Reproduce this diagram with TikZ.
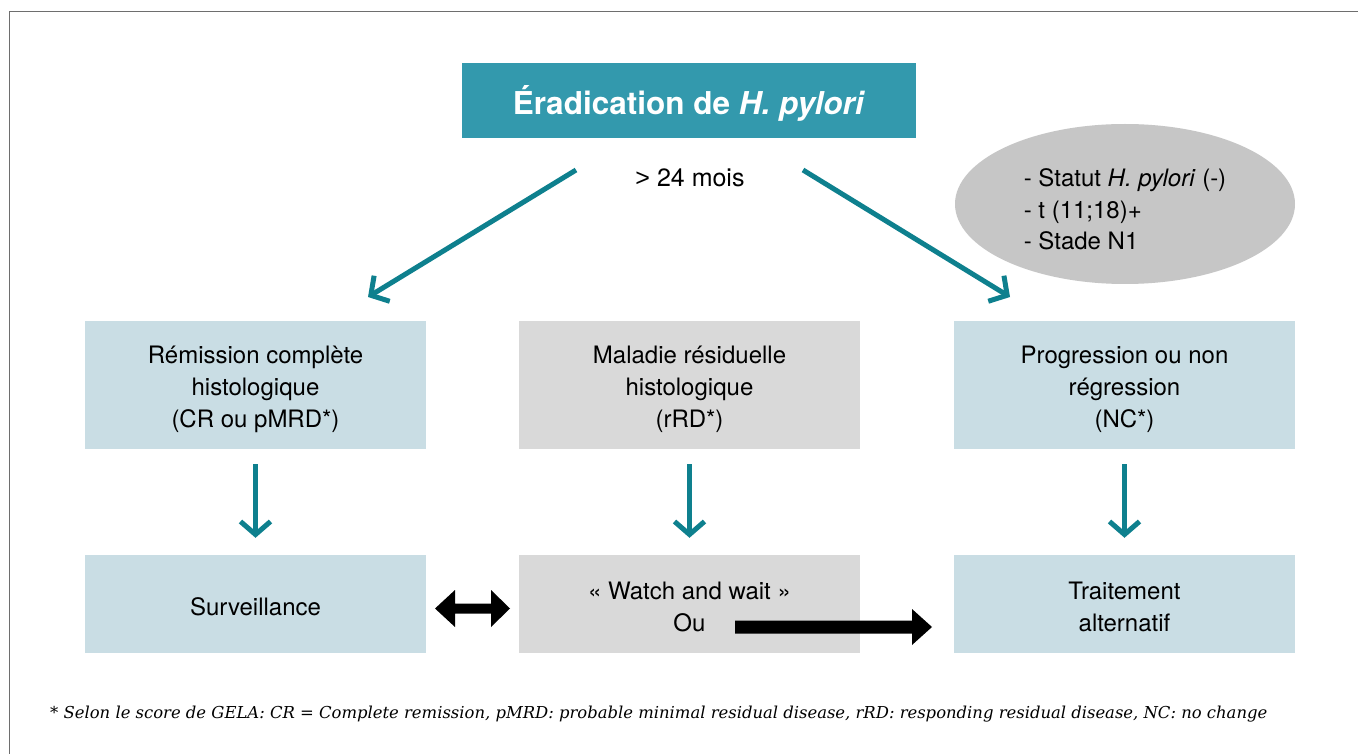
\documentclass[tikz,border=0pt]{standalone}
\usepackage{fontspec}
\setmainfont{TeX Gyre Heros}
\newfontfamily\footfont{DejaVu Serif}
\newfontfamily\gtfont{Liberation Sans}
\usetikzlibrary{arrows.meta,shapes.geometric}
\definecolor{titleteal}{RGB}{51,153,173}
\definecolor{arrowteal}{RGB}{14,128,142}
\definecolor{boxblue}{RGB}{201,221,228}
\definecolor{boxgray}{RGB}{217,217,217}
\definecolor{ellgray}{RGB}{198,198,198}
\definecolor{framegray}{RGB}{110,110,110}
\tikzset{
  boxbase/.style={rectangle, minimum width=341pt, inner sep=0pt},
  bluebox/.style={boxbase, fill=boxblue},
  graybox/.style={boxbase, fill=boxgray},
  boxtext/.style={inner sep=0pt, align=center, font=\fontsize{24}{32}\selectfont, text=black},
  flowarrow/.style={draw=arrowteal, line width=5pt,
    -{Straight Barb[length=13pt,width=30pt,line width=5pt]}},
  fatarrow/.style={fill=black, draw=none},
}
\begin{document}
\begin{tikzpicture}[x=1pt,y=-1pt]
\useasboundingbox (0,0) rectangle (1358,754);
\fill[white] (0,0) rectangle (1358,754);
% frame
\draw[framegray, line width=1.6pt] (9.5,754) -- (9.5,11.5) -- (1358,11.5);

% title
\node[rectangle, fill=titleteal, minimum width=454pt, minimum height=75pt,
  inner sep=0pt] (title) at (689,100.5) {};
\node[inner sep=0pt, text=white, font=\fontsize{31.5}{36}\selectfont\bfseries]
  (titletext) at (689,103.5) {Éradication de \textit{H. pylori}};
\node[font=\fontsize{25}{30}\selectfont, inner sep=0pt] (mois) at (690,178)
  {{\gtfont >} 24 mois};

% ellipse
\node[ellipse, fill=ellgray, minimum width=340pt, minimum height=160pt, inner sep=0pt]
  (crit) at (1125,204) {};
\node[align=left, inner sep=0pt, font=\fontsize{24}{31.5}\selectfont] (crittext)
  at (1125,209.5) {- Statut \textit{H. pylori} (-)\\ - t (11;18)+\\ - Stade N1};

% row 1
\node[bluebox, minimum height=128pt] (cr) at (255.5,385) {};
\node[graybox, minimum height=128pt] (rd) at (689.5,385) {};
\node[bluebox, minimum height=128pt] (nc) at (1124.5,385) {};
\node[boxtext] (crtext) at ([yshift=-4pt]cr.center)
  {Rémission complète\\ histologique\\ (CR ou pMRD*)};
\node[boxtext] (rdtext) at ([yshift=-4pt]rd.center)
  {Maladie résiduelle\\ histologique\\ (rRD*)};
\node[boxtext] (nctext) at ([yshift=-4pt]nc.center)
  {Progression ou non\\ régression\\ (NC*)};

% row 2
\node[bluebox, minimum height=98pt] (surv) at (255.5,604) {};
\node[graybox, minimum height=98pt] (ww) at (689.5,604) {};
\node[bluebox, minimum height=98pt] (trt) at (1124.5,604) {};
\node[boxtext] (survtext) at ([yshift=-3pt]surv.center) {Surveillance};
\node[boxtext] (wwtext) at ([yshift=-3pt]ww.center) {« Watch and wait »\\ Ou};
\node[boxtext] (trttext) at ([yshift=-3pt]trt.center) {Traitement\\ alternatif};

% diagonal arrows
\coordinate (dls) at (576,170);
\coordinate (dle) at (368,297);
\coordinate (drs) at (803,170);
\coordinate (dre) at (1010,297);
\draw[flowarrow] (dls) -- (dle);
\draw[flowarrow] (drs) -- (dre);

% vertical arrows
\draw[flowarrow] ([yshift=-15pt]cr.south) -- ([yshift=17pt]surv.north);
\draw[flowarrow] ([yshift=-15pt]rd.south) -- ([yshift=17pt]ww.north);
\draw[flowarrow] ([yshift=-15pt]nc.south) -- ([yshift=17pt]trt.north);

% fat double arrow between Surveillance and Watch and wait
\fill[fatarrow] (435,608.5) -- (455,590) -- (455,603.5) -- (491,603.5) -- (491,590)
  -- (510,608.5) -- (491,627) -- (491,613.5) -- (455,613.5) -- (455,627) -- cycle;
% fat single arrow to Traitement alternatif
\fill[fatarrow] (735,620.5) -- (912,620.5) -- (912,609) -- (932,627) -- (912,645)
  -- (912,633.5) -- (735,633.5) -- cycle;

% footnote
\node[anchor=west, inner sep=0pt] (foot) at (50,714)
  {\resizebox{1217pt}{!}{\footfont\itshape\fontsize{15}{18}\selectfont * Selon le score de GELA: CR = Complete remission, pMRD: probable minimal residual disease, rRD: responding residual disease, NC: no change}};
\end{tikzpicture}
\end{document}
